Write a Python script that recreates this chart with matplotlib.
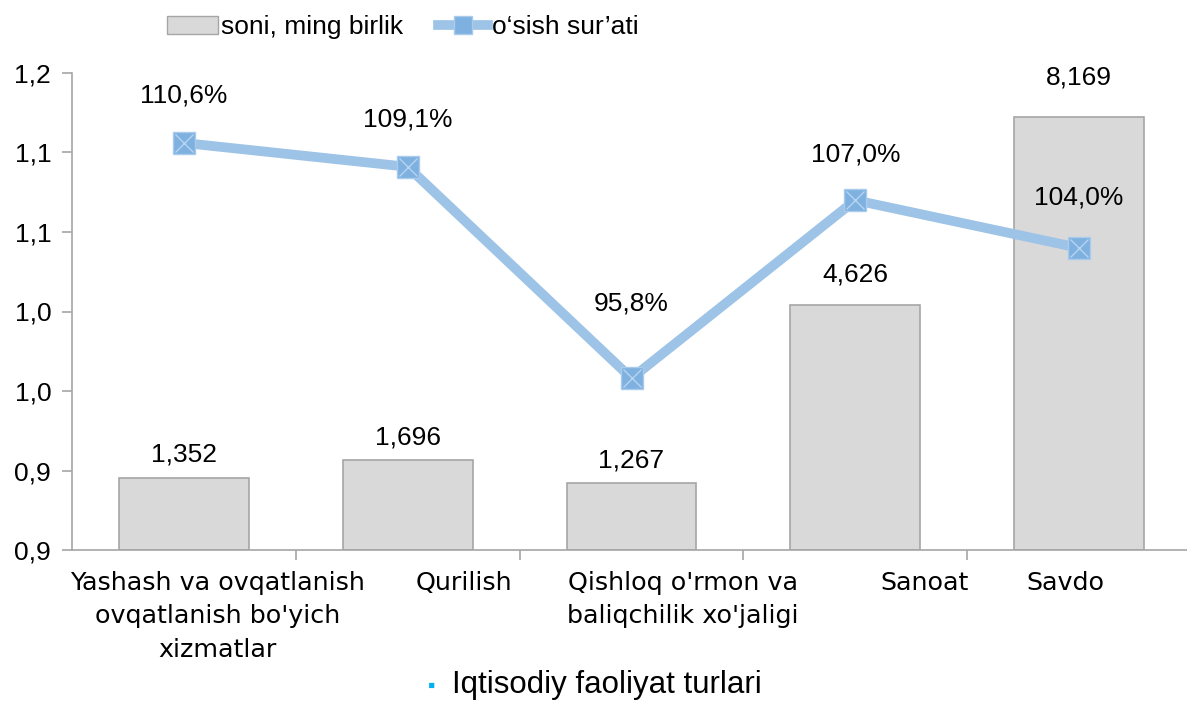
import numpy as np
import matplotlib.pyplot as plt
from matplotlib.lines import Line2D
from matplotlib.patches import Patch

plt.rcParams['font.family'] = ['Liberation Sans', 'DejaVu Sans']

categories = ["Yashash va ovqatlanish\novqatlanish bo'yich\nxizmatlar", "Qurilish",
              "Qishloq o'rmon va\nbaliqchilik xo'jaligi", "Sanoat", "Savdo"]
soni = [1.352, 1.696, 1.267, 4.626, 8.169]
soni_labels = ['1,352', '1,696', '1,267', '4,626', '8,169']
osish = [1.106, 1.091, 0.958, 1.070, 1.040]
osish_labels = ['110,6%', '109,1%', '95,8%', '107,0%', '104,0%']
yticks = [0.85, 0.90, 0.95, 1.00, 1.05, 1.10, 1.15]
ytick_labels = ['0,9', '0,9', '1,0', '1,0', '1,1', '1,1', '1,2']

x = np.arange(len(categories))
grey = '#a6a6a6'
line_c = '#9dc3e6'
mark_c = '#7eb0e0'

fig = plt.figure(figsize=(11.87, 7.02), dpi=100)
ax = fig.add_axes([72/1187, 152/702, 1119/1187, 477/702])
ax2 = ax.twinx()

# bars on hidden secondary axis
ax2.bar(x, soni, width=0.58, color='#d9d9d9', edgecolor=grey, linewidth=1.2, zorder=1)
ax2.set_ylim(0, 9)
ax2.axis('off')
bar_off = [0.45, 0.43, 0.43, 0.57, 0.75]
for xi, v, lab, o in zip(x, soni, soni_labels, bar_off):
    ax2.text(xi, v + o, lab, ha='center', va='center', fontsize=19)

# line on primary axis, drawn above bars
ax.set_zorder(ax2.get_zorder() + 1)
ax.patch.set_visible(False)
ax.plot(x, osish, color=line_c, linewidth=7, solid_capstyle='round', zorder=3)
ax.plot(x, osish, linestyle='none', marker='s', markersize=16, markerfacecolor=mark_c,
        markeredgecolor='#a9cbee', markeredgewidth=1, zorder=4)
ax.plot(x, osish, linestyle='none', marker='x', markersize=13, markeredgecolor='#b7d3ef',
        markeredgewidth=1, zorder=5)
lab_off = [0.030, 0.030, 0.047, 0.029, 0.032]
for xi, v, lab, o in zip(x, osish, osish_labels, lab_off):
    ax.text(xi, v + o, lab, ha='center', va='center', fontsize=19, zorder=6)

ax.set_xlim(-0.5, 4.5)
ax.set_ylim(0.85, 1.15)
ax.set_yticks(yticks)
ax.set_yticklabels(ytick_labels, fontsize=19)
ax.set_xticks(x[:-1] + 0.5)
ax.set_xticklabels([])
ax.tick_params(axis='y', colors=grey, labelcolor='black', length=7, width=1.2, pad=8)
ax.tick_params(axis='x', colors=grey, length=7, width=1.2)
for s in ['top', 'right']:
    ax.spines[s].set_visible(False)
for s in ['left', 'bottom']:
    ax.spines[s].set_color(grey)
    ax.spines[s].set_linewidth(1.2)

# category labels (offset like the original)
cat_shift = [0.15, 0.25, 0.23, 0.31, -0.06]
for xi, name, sh in zip(x, categories, cat_shift):
    ax.text(xi + sh, 0.837, name, ha='center', va='top', fontsize=18.3,
            family='DejaVu Sans', linespacing=1.5, transform=ax.transData)

fig.text(432/1187, 1 - 686/702, '\u25aa', color='#00b0f0', fontsize=15, ha='center', va='center')
fig.text(452/1187, 1 - 685/702, 'Iqtisodiy faoliyat turlari', fontsize=22.5, ha='left', va='center')

handles = [Patch(facecolor='#d9d9d9', edgecolor=grey),
           Line2D([0], [0], color=line_c, linewidth=7, marker='s', markersize=13,
                  markerfacecolor=mark_c, markeredgecolor='#a9cbee')]
fig.legend(handles, ['soni, ming birlik', 'o\u2018sish sur\u2019ati'], loc='center',
           bbox_to_anchor=(403/1187, 1 - 27/702), ncol=2, frameon=False, fontsize=19,
           handlelength=1.9, handletextpad=0.15, columnspacing=1.3, handleheight=0.7)

fig.savefig('out.png', dpi=100)
